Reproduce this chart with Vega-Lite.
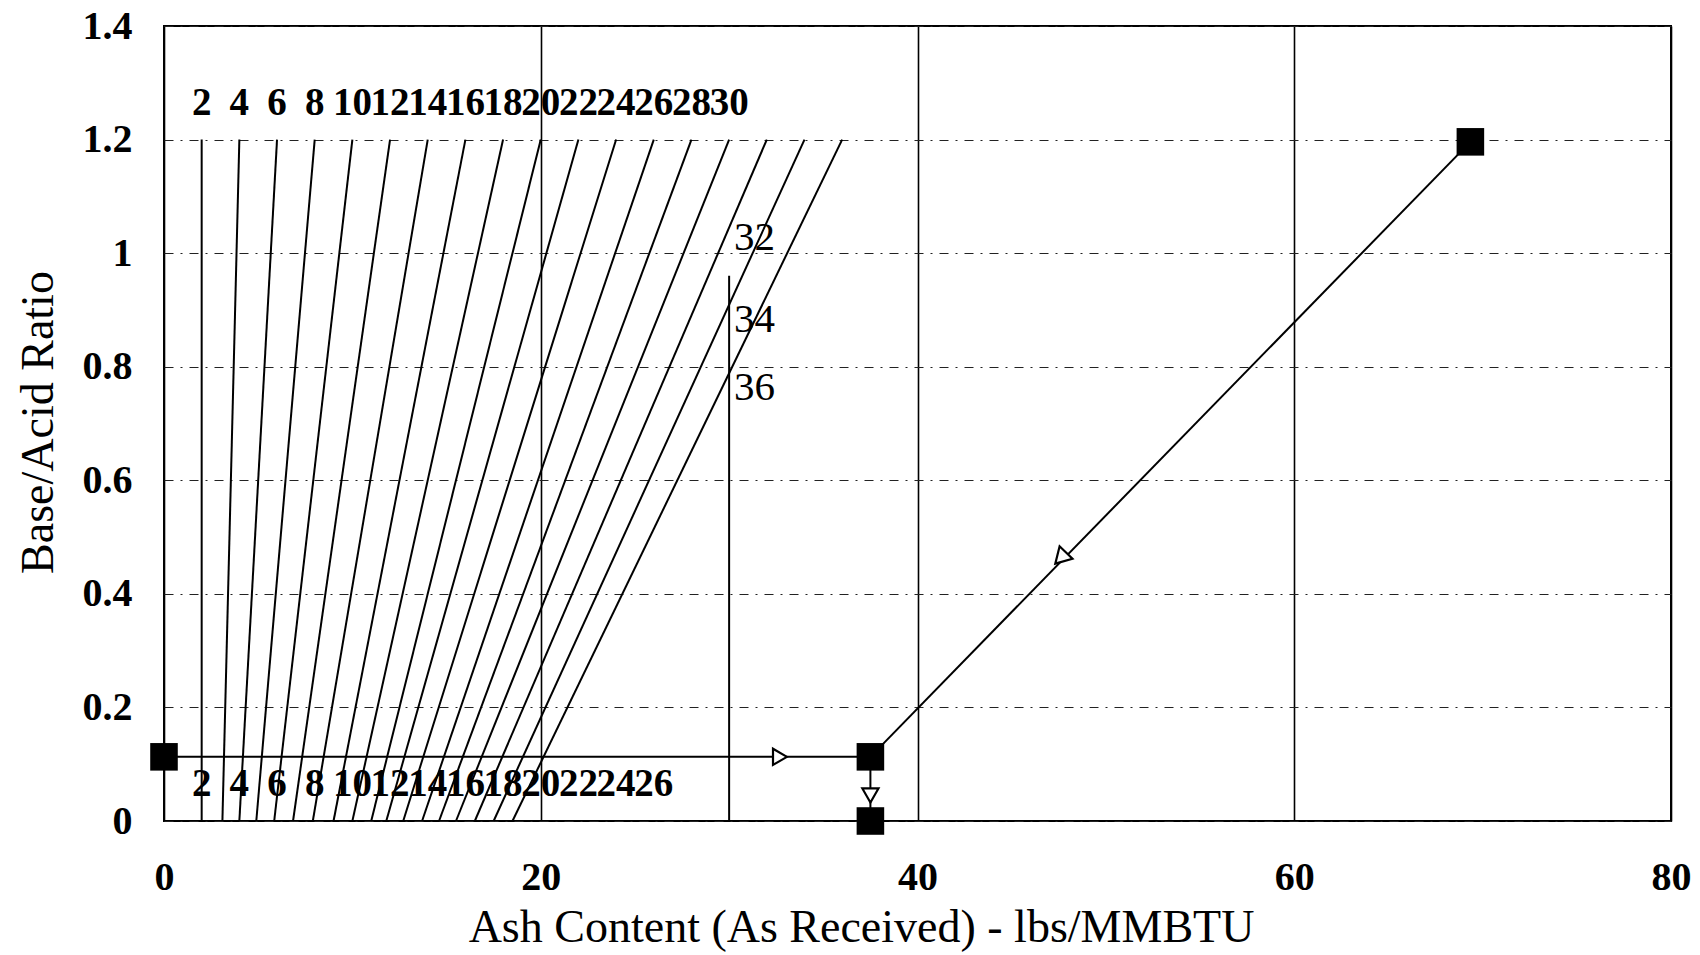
{
  "$schema": "https://vega.github.io/schema/vega-lite/v6.json",
  "width": 1507,
  "height": 795,
  "autosize": {"type": "none"},
  "padding": {"left": 164, "top": 26, "right": 29, "bottom": 134},
  "background": "white",
  "config": {
    "view": {"stroke": "black", "strokeWidth": 2},
    "font": "Liberation Serif",
    "axis": {
      "labelColor": "black",
      "titleColor": "black",
      "labelFont": "Liberation Serif",
      "titleFont": "Liberation Serif",
      "labelFontWeight": "bold",
      "titleFontWeight": "normal",
      "labelFlush": false,
      "labelOverlap": false,
      "domain": false,
      "ticks": false,
      "tickSize": 0
    }
  },
  "datasets": {
    "curves": [
      {"line": "2", "x": 2, "y": 1.2}, {"line": "2", "x": 2.0, "y": 0},
      {"line": "4", "x": 4, "y": 1.2}, {"line": "4", "x": 3.1, "y": 0},
      {"line": "6", "x": 6, "y": 1.2}, {"line": "6", "x": 4.0, "y": 0},
      {"line": "8", "x": 8, "y": 1.2}, {"line": "8", "x": 4.9, "y": 0},
      {"line": "10", "x": 10, "y": 1.2}, {"line": "10", "x": 5.85, "y": 0},
      {"line": "12", "x": 12, "y": 1.2}, {"line": "12", "x": 6.85, "y": 0},
      {"line": "14", "x": 14, "y": 1.2}, {"line": "14", "x": 7.9, "y": 0},
      {"line": "16", "x": 16, "y": 1.2}, {"line": "16", "x": 9.0, "y": 0},
      {"line": "18", "x": 18, "y": 1.2}, {"line": "18", "x": 10.0, "y": 0},
      {"line": "20", "x": 20, "y": 1.2}, {"line": "20", "x": 11.0, "y": 0},
      {"line": "22", "x": 22, "y": 1.2}, {"line": "22", "x": 11.8, "y": 0},
      {"line": "24", "x": 24, "y": 1.2}, {"line": "24", "x": 12.7, "y": 0},
      {"line": "26", "x": 26, "y": 1.2}, {"line": "26", "x": 13.7, "y": 0},
      {"line": "28", "x": 28, "y": 1.2}, {"line": "28", "x": 14.6, "y": 0},
      {"line": "30", "x": 30, "y": 1.2}, {"line": "30", "x": 15.5, "y": 0},
      {"line": "32", "x": 32, "y": 1.2}, {"line": "32", "x": 16.5, "y": 0},
      {"line": "34", "x": 34, "y": 1.2}, {"line": "34", "x": 17.5, "y": 0},
      {"line": "36", "x": 36, "y": 1.2}, {"line": "36", "x": 18.5, "y": 0}
    ],
    "limit": [
      {"x": 30, "y": 0},
      {"x": 30, "y": 0.96}
    ],
    "path": [
      {"leg": "feed", "x": 0, "y": 0.113}, {"leg": "feed", "x": 37.5, "y": 0.113},
      {"leg": "drop", "x": 37.5, "y": 0.113}, {"leg": "drop", "x": 37.5, "y": 0},
      {"leg": "slope", "x": 37.5, "y": 0.113}, {"leg": "slope", "x": 69.35, "y": 1.196}
    ],
    "points": [
      {"x": 0, "y": 0.113},
      {"x": 37.5, "y": 0.113},
      {"x": 37.5, "y": 0},
      {"x": 69.35, "y": 1.196}
    ],
    "arrows": [
      {"leg": "feed", "x": 32.7, "y": 0.113},
      {"leg": "drop", "x": 37.5, "y": 0.045},
      {"leg": "slope", "x": 47.6, "y": 0.463}
    ],
    "endLabels": [
      {"x": 2, "y": 1.2, "label": "2"}, {"x": 4, "y": 1.2, "label": "4"},
      {"x": 6, "y": 1.2, "label": "6"}, {"x": 8, "y": 1.2, "label": "8"},
      {"x": 10, "y": 1.2, "label": "10"}, {"x": 12, "y": 1.2, "label": "12"},
      {"x": 14, "y": 1.2, "label": "14"}, {"x": 16, "y": 1.2, "label": "16"},
      {"x": 18, "y": 1.2, "label": "18"}, {"x": 20, "y": 1.2, "label": "20"},
      {"x": 22, "y": 1.2, "label": "22"}, {"x": 24, "y": 1.2, "label": "24"},
      {"x": 26, "y": 1.2, "label": "26"}, {"x": 28, "y": 1.2, "label": "28"},
      {"x": 30, "y": 1.2, "label": "30"},
      {"x": 2, "y": 0, "label": "2"}, {"x": 4, "y": 0, "label": "4"},
      {"x": 6, "y": 0, "label": "6"}, {"x": 8, "y": 0, "label": "8"},
      {"x": 10, "y": 0, "label": "10"}, {"x": 12, "y": 0, "label": "12"},
      {"x": 14, "y": 0, "label": "14"}, {"x": 16, "y": 0, "label": "16"},
      {"x": 18, "y": 0, "label": "18"}, {"x": 20, "y": 0, "label": "20"},
      {"x": 22, "y": 0, "label": "22"}, {"x": 24, "y": 0, "label": "24"},
      {"x": 26, "y": 0, "label": "26"}
    ],
    "sideLabels": [
      {"x": 31.35, "y": 1.005, "label": "32"},
      {"x": 31.35, "y": 0.862, "label": "34"},
      {"x": 31.35, "y": 0.741, "label": "36"}
    ]
  },
  "layer": [
    {
      "data": {"name": "curves"},
      "mark": {"type": "line", "color": "black", "strokeWidth": 2},
      "encoding": {
        "x": {
          "field": "x",
          "type": "quantitative",
          "scale": {"domain": [0, 80], "nice": false, "zero": false},
          "axis": {
            "values": [0, 20, 40, 60, 80],
            "format": "d",
            "grid": true,
            "gridColor": "black",
            "gridWidth": 1.6,
            "labelFontSize": 40,
            "labelBaseline": "alphabetic",
            "labelPadding": 68,
            "title": "Ash Content (As Received) - lbs/MMBTU",
            "titleFontSize": 46,
            "titleX": 697,
            "titleY": 120,
            "titleAlign": "center",
            "titleBaseline": "alphabetic"
          }
        },
        "y": {
          "field": "y",
          "type": "quantitative",
          "scale": {"domain": [0, 1.4], "nice": false, "zero": false},
          "axis": {
            "values": [0, 0.2, 0.4, 0.6, 0.8, 1, 1.2, 1.4],
            "format": "~g",
            "grid": true,
            "gridColor": "#222222",
            "gridWidth": 1.2,
            "gridDash": [9, 7, 2, 7],
            "labelFontSize": 40,
            "labelPadding": 32,
            "labelBaseline": "middle",
            "title": "Base/Acid Ratio",
            "titleFontSize": 46,
            "titleAngle": -90,
            "titleX": -112,
            "titleY": 396,
            "titleAlign": "center",
            "titleBaseline": "alphabetic"
          }
        },
        "detail": {"field": "line", "type": "nominal"}
      }
    },
    {
      "data": {"name": "limit"},
      "mark": {"type": "line", "color": "black", "strokeWidth": 2},
      "encoding": {
        "x": {"field": "x", "type": "quantitative"},
        "y": {"field": "y", "type": "quantitative"}
      }
    },
    {
      "data": {"name": "path"},
      "mark": {"type": "line", "color": "black", "strokeWidth": 2},
      "encoding": {
        "x": {"field": "x", "type": "quantitative"},
        "y": {"field": "y", "type": "quantitative"},
        "detail": {"field": "leg", "type": "nominal"}
      }
    },
    {
      "data": {"name": "points"},
      "mark": {"type": "point", "shape": "square", "filled": true, "color": "black", "size": 760, "opacity": 1},
      "encoding": {
        "x": {"field": "x", "type": "quantitative"},
        "y": {"field": "y", "type": "quantitative"}
      }
    },
    {
      "data": {"name": "arrows"},
      "transform": [{"filter": "datum.leg === 'feed'"}],
      "mark": {"type": "point", "shape": "triangle-right", "filled": false, "fill": "white", "stroke": "black", "strokeWidth": 2.2, "size": 260, "opacity": 1},
      "encoding": {
        "x": {"field": "x", "type": "quantitative"},
        "y": {"field": "y", "type": "quantitative"}
      }
    },
    {
      "data": {"name": "arrows"},
      "transform": [{"filter": "datum.leg === 'drop'"}],
      "mark": {"type": "point", "shape": "triangle-down", "filled": false, "fill": "white", "stroke": "black", "strokeWidth": 2.2, "size": 260, "opacity": 1},
      "encoding": {
        "x": {"field": "x", "type": "quantitative"},
        "y": {"field": "y", "type": "quantitative"}
      }
    },
    {
      "data": {"name": "arrows"},
      "transform": [{"filter": "datum.leg === 'slope'"}],
      "mark": {"type": "point", "shape": "triangle-up", "angle": 224, "filled": false, "fill": "white", "stroke": "black", "strokeWidth": 2.2, "size": 320, "opacity": 1},
      "encoding": {
        "x": {"field": "x", "type": "quantitative"},
        "y": {"field": "y", "type": "quantitative"}
      }
    },
    {
      "data": {"name": "endLabels"},
      "mark": {"type": "text", "font": "Liberation Serif", "fontSize": 39, "fontWeight": "bold", "color": "black", "align": "center", "baseline": "alphabetic", "dy": -25},
      "encoding": {
        "x": {"field": "x", "type": "quantitative"},
        "y": {"field": "y", "type": "quantitative"},
        "text": {"field": "label", "type": "nominal"}
      }
    },
    {
      "data": {"name": "sideLabels"},
      "mark": {"type": "text", "font": "Liberation Serif", "fontSize": 41, "color": "black", "align": "center", "baseline": "alphabetic"},
      "encoding": {
        "x": {"field": "x", "type": "quantitative"},
        "y": {"field": "y", "type": "quantitative"},
        "text": {"field": "label", "type": "nominal"}
      }
    }
  ]
}
